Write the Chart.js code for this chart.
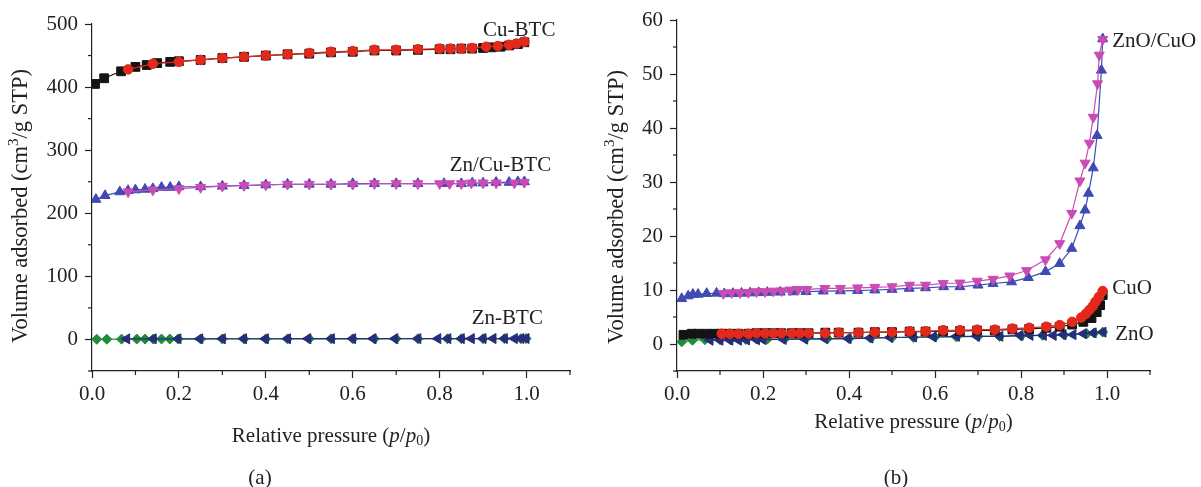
<!DOCTYPE html>
<html>
<head>
<meta charset="utf-8">
<script src="https://cdn.jsdelivr.net/npm/chart.js@4.4.1/dist/chart.umd.min.js"></script>
<style>
html, body { margin: 0; padding: 0; background: #fff; }
#wrap { position: relative; width: 1201px; height: 487px; }
#chartA { position: absolute; left: 0; top: 0; }
#chartB { position: absolute; left: 600px; top: 0; }
</style>
</head>
<body>
<div id="wrap">
  <canvas id="chartA" width="600" height="487"></canvas>
  <canvas id="chartB" width="601" height="487"></canvas>
</div>
<script>
//////// (a) MOF isotherms ////////
// Cu-BTC
var cuAdsX = [0.007,0.028,0.067,0.10,0.126,0.15,0.18,0.20,0.25,0.30,0.35,0.40,0.45,0.50,0.55,0.60,0.65,0.70,0.75,0.80,0.825,0.85,0.875,0.90,0.92,0.94,0.96,0.98,0.995];
var cuAdsY = [405,414,425,432,435,438,440,441,443,446,448,450,452,453,455,456,458,458,459,460,460,461,461,462,463,464,466,468,471];
var cuDesX = [0.083,0.14,0.20,0.25,0.30,0.35,0.40,0.45,0.50,0.55,0.60,0.65,0.70,0.75,0.80,0.825,0.85,0.875,0.907,0.934,0.96,0.977,0.995];
var cuDesY = [428,437,440,443,446,448,450,452,454,456,457,459,459,460,461,461,461,462,464,465,467,469,472];
// Zn/Cu-BTC
var znCuAdsX = [0.009,0.03,0.064,0.083,0.10,0.122,0.14,0.16,0.18,0.20,0.25,0.30,0.35,0.40,0.45,0.50,0.55,0.60,0.65,0.70,0.75,0.81,0.85,0.875,0.90,0.93,0.96,0.98,0.995];
var znCuAdsY = [222,228,234,236,237,238,239,241,241,242,242,243,244,245,246,246,246,247,247,247,247,247,247,248,248,249,249,250,250];
var znCuDesX = [0.083,0.14,0.20,0.25,0.30,0.35,0.40,0.45,0.50,0.55,0.60,0.65,0.70,0.75,0.80,0.823,0.85,0.873,0.90,0.93,0.972,0.995];
var znCuDesY = [234,237,239,241,243,244,245,246,246,246,246,247,247,247,247,247,247,248,248,248,248,249];
// Zn-BTC
var znAdsX = [0.011,0.034,0.068,0.103,0.122,0.141,0.16,0.179,0.198,0.25,0.30,0.35,0.40,0.45,0.50,0.55,0.60,0.65,0.70,0.75,0.818,0.85,0.90,0.949,0.987,0.999];
var znAdsY = [0.3,0.4,0.5,0.6,0.6,0.7,0.7,0.7,0.8,0.8,0.8,0.9,0.9,0.9,1.0,1.0,1.0,1.0,1.1,1.1,1.1,1.2,1.2,1.3,1.3,1.4];
var znDesX = [0.08,0.141,0.198,0.248,0.30,0.349,0.399,0.45,0.497,0.551,0.60,0.647,0.697,0.75,0.796,0.819,0.85,0.873,0.90,0.923,0.949,0.972,0.987,0.999];
var znDesY = [0.9,1.0,1.0,1.0,1.1,1.1,1.1,1.1,1.2,1.2,1.2,1.2,1.2,1.3,1.3,1.3,1.3,1.3,1.4,1.4,1.4,1.4,1.5,1.5];

//////// (b) oxide isotherms ////////
// ZnO/CuO
var zcAdsX = [0.011,0.026,0.037,0.049,0.069,0.092,0.11,0.13,0.15,0.17,0.19,0.21,0.24,0.27,0.30,0.34,0.38,0.42,0.46,0.50,0.54,0.578,0.62,0.658,0.70,0.735,0.778,0.817,0.857,0.89,0.918,0.937,0.949,0.957,0.968,0.977,0.987,0.99];
var zcAdsY = [8.4,8.9,9.2,9.2,9.35,9.4,9.3,9.35,9.4,9.45,9.5,9.55,9.6,9.65,9.7,9.8,9.85,9.9,10.0,10.1,10.3,10.4,10.6,10.6,10.9,11.2,11.5,12.3,13.4,14.9,17.7,21.9,24.8,27.9,32.6,38.6,50.7,56.5];
var zcDesX = [0.108,0.127,0.147,0.166,0.185,0.205,0.224,0.243,0.263,0.282,0.302,0.344,0.38,0.42,0.46,0.50,0.541,0.578,0.619,0.658,0.698,0.735,0.774,0.813,0.857,0.89,0.918,0.937,0.949,0.959,0.968,0.978,0.982,0.99];
var zcDesY = [9.35,9.5,9.5,9.55,9.7,9.7,9.8,9.85,10.0,10.1,10.1,10.3,10.3,10.4,10.5,10.6,10.9,10.9,11.2,11.3,11.65,12.0,12.6,13.6,15.6,18.6,24.2,30.2,33.5,37.2,42.0,48.2,53.5,56.4];
// CuO
var cuoAdsX = [0.015,0.034,0.05,0.069,0.088,0.104,0.123,0.143,0.166,0.185,0.205,0.224,0.243,0.267,0.286,0.306,0.345,0.376,0.422,0.46,0.50,0.541,0.578,0.619,0.658,0.698,0.739,0.78,0.819,0.859,0.89,0.919,0.945,0.964,0.976,0.984,0.99];
var cuoAdsY = [1.7,1.9,1.9,1.9,1.9,1.9,1.9,1.9,1.9,2.0,2.0,2.0,2.0,2.0,2.0,2.0,2.1,2.1,2.1,2.2,2.2,2.3,2.3,2.4,2.4,2.5,2.5,2.7,2.8,3.0,3.2,3.6,4.1,4.8,5.9,7.2,9.05];
var cuoDesX = [0.104,0.123,0.143,0.166,0.185,0.205,0.224,0.243,0.267,0.286,0.306,0.345,0.376,0.422,0.46,0.50,0.541,0.578,0.619,0.658,0.698,0.739,0.78,0.819,0.859,0.89,0.919,0.94,0.951,0.959,0.967,0.973,0.981,0.99];
var cuoDesY = [1.9,1.9,1.9,1.9,2.0,2.0,2.0,2.0,2.0,2.0,2.0,2.0,2.1,2.1,2.2,2.2,2.35,2.35,2.55,2.55,2.65,2.65,2.85,3.0,3.2,3.5,4.1,4.9,5.6,6.3,7.0,7.8,8.7,9.8];
// ZnO
var znoAdsX = [0.011,0.036,0.065,0.1,0.124,0.16,0.185,0.21,0.25,0.30,0.35,0.40,0.45,0.50,0.55,0.60,0.65,0.70,0.75,0.80,0.85,0.90,0.953,0.97,0.99];
var znoAdsY = [0.4,0.7,0.8,0.8,0.8,0.85,0.9,0.9,0.9,1.0,1.0,1.0,1.1,1.2,1.2,1.3,1.3,1.4,1.4,1.5,1.6,1.7,1.9,2.05,2.2];
var znoDesX = [0.077,0.1,0.123,0.143,0.162,0.185,0.2,0.247,0.297,0.344,0.398,0.449,0.495,0.55,0.596,0.65,0.697,0.751,0.798,0.821,0.852,0.875,0.898,0.921,0.945,0.968,0.991];
var znoDesY = [0.7,0.7,0.7,0.7,0.75,0.8,0.8,0.85,0.9,0.95,1.0,1.1,1.2,1.3,1.3,1.43,1.43,1.43,1.6,1.6,1.6,1.6,1.73,1.73,1.9,2.05,2.2];

// axis ticks
var xMajor = [0, 0.2, 0.4, 0.6, 0.8, 1.0];
var xMinor = [0.1, 0.3, 0.5, 0.7, 0.9, 1.1];
var yMajorA = [0, 100, 200, 300, 400, 500];
var yMinorA = [-50, 50, 150, 250, 350, 450];
var yMajorB = [0, 10, 20, 30, 40, 50, 60];
var yMinorB = [-5, 5, 15, 25, 35, 45, 55];

var SERIF = '"Liberation Serif", "DejaVu Serif", serif';
var INK = '#222';
var FS = 21;     // ticks, x title, curve names
var YFS = 22.5;  // rotated y title

// pair up x/y arrays into chart.js points
function pts(xs, ys) {
  var out = [];
  for (var i = 0; i < xs.length; i++) out.push({x: xs[i], y: ys[i]});
  return out;
}

function series(xs, ys, color, style, rot, r) {
  return {
    data: pts(xs, ys),
    showLine: true,
    borderColor: color,
    backgroundColor: color,
    borderWidth: 1.2,
    pointStyle: style,
    rotation: rot || 0,
    pointRadius: r || 4.8,
    pointBorderWidth: 1,
    pointBorderColor: color,
    pointBackgroundColor: color,
    tension: 0
  };
}

var BLACK = '#141414', RED = '#e3291c', BLUE = '#3f4bb2', PINK = '#c94bb3', GREEN = '#1f8c3c', NAVY = '#272c7c';

// text with italic / sub / superscript pieces, centred on (cx, cy)
function drawRich(ctx, parts, cx, cy, angle, size) {
  function fontOf(p) {
    var s = (p.sup || p.sub) ? Math.round(size * 0.66) : size;
    return (p.i ? 'italic ' : '') + s + 'px ' + SERIF;
  }
  var total = 0;
  parts.forEach(function (p) { ctx.font = fontOf(p); p.w = ctx.measureText(p.t).width; total += p.w; });
  ctx.save();
  ctx.translate(cx, cy);
  ctx.rotate(angle);
  ctx.textBaseline = 'middle';
  ctx.textAlign = 'left';
  ctx.fillStyle = INK;
  var x = -total / 2;
  parts.forEach(function (p) {
    ctx.font = fontOf(p);
    var dy = p.sup ? -size * 0.33 : (p.sub ? size * 0.25 : 0);
    ctx.fillText(p.t, x, dy);
    x += p.w;
  });
  ctx.restore();
}

var xTitle = [{t: 'Relative pressure ('}, {t: 'p', i: 1}, {t: '/'}, {t: 'p', i: 1}, {t: '0', sub: 1}, {t: ')'}];
var yTitle = [{t: 'Volume adsorbed (cm'}, {t: '3', sup: 1}, {t: '/g STP)'}];

// minor ticks, curve names, axis titles and the panel letter
var decor = {
  id: 'decor',
  afterDraw: function (chart, args, o) {
    var ctx = chart.ctx, xs = chart.scales.x, ys = chart.scales.y;
    ctx.save();
    ctx.strokeStyle = INK;
    ctx.lineWidth = 1.2;
    o.minorX.forEach(function (v) {
      var px = xs.getPixelForValue(v);
      ctx.beginPath(); ctx.moveTo(px, xs.top); ctx.lineTo(px, xs.top + 4); ctx.stroke();
    });
    o.minorY.forEach(function (v) {
      var py = ys.getPixelForValue(v);
      ctx.beginPath(); ctx.moveTo(ys.right, py); ctx.lineTo(ys.right - 4, py); ctx.stroke();
    });
    ctx.font = FS + 'px ' + SERIF;
    ctx.fillStyle = INK;
    ctx.textAlign = 'left';
    ctx.textBaseline = 'middle';
    o.names.forEach(function (n) {
      ctx.fillText(n.t, xs.getPixelForValue(n.x), ys.getPixelForValue(n.y));
    });
    ctx.restore();
    drawRich(ctx, yTitle, o.yTitleX, o.yTitleY, -Math.PI / 2, YFS);
    drawRich(ctx, xTitle, (xs.left + xs.right) / 2, o.xTitleY, 0, FS);
    drawRich(ctx, [{t: o.letter}], o.letterX, o.letterY, 0, FS);
  }
};

function makeChart(id, datasets, yMin, yMax, yMajor, yWidth, pad, deco) {
  return new Chart(document.getElementById(id), {
    type: 'scatter',
    data: {datasets: datasets},
    plugins: [decor],
    options: {
      responsive: false,
      animation: false,
      layout: {padding: pad},
      plugins: {legend: {display: false}, tooltip: {enabled: false}, decor: deco},
      scales: {
        x: {
          type: 'linear', min: 0, max: 1.1,
          afterBuildTicks: function (s) { s.ticks = xMajor.map(function (v) { return {value: v}; }); },
          afterFit: function (s) { s.height = 50; },
          ticks: {callback: function (v) { return v.toFixed(1); }, color: INK, font: {family: SERIF, size: FS}, padding: 4, maxRotation: 0, autoSkip: false},
          grid: {drawOnChartArea: false, tickLength: 7, tickColor: INK, tickWidth: 1.2},
          border: {color: INK, width: 1.2}
        },
        y: {
          type: 'linear', min: yMin, max: yMax,
          afterBuildTicks: function (s) { s.ticks = yMajor.map(function (v) { return {value: v}; }); },
          afterFit: function (s) { s.width = yWidth; },
          ticks: {color: INK, font: {family: SERIF, size: FS}, padding: 7, autoSkip: false},
          grid: {drawOnChartArea: false, tickLength: 7, tickColor: INK, tickWidth: 1.2},
          border: {color: INK, width: 1.2}
        }
      }
    }
  });
}

// (a) desorption branches listed first so they sit on top
makeChart('chartA', [
  series(cuDesX, cuDesY, RED, 'circle'),
  series(cuAdsX, cuAdsY, BLACK, 'rect', 0, 6.2),
  series(znCuDesX, znCuDesY, PINK, 'triangle', 180, 5.8),
  series(znCuAdsX, znCuAdsY, BLUE, 'triangle', 0, 5.8),
  series(znDesX, znDesY, NAVY, 'triangle', -90, 5.8),
  series(znAdsX, znAdsY, GREEN, 'rectRot', 0, 5)
], -50, 500, yMajorA, 92, {left: 0, right: 30, top: 24, bottom: 66}, {
  minorX: xMinor, minorY: yMinorA,
  names: [{t: 'Cu-BTC', x: 0.9, y: 490}, {t: 'Zn/Cu-BTC', x: 0.823, y: 275}, {t: 'Zn-BTC', x: 0.874, y: 33}],
  yTitleX: 21, yTitleY: 206, xTitleY: 436,
  letter: '(a)', letterX: 260, letterY: 478
});

makeChart('chartB', [
  series(zcDesX, zcDesY, PINK, 'triangle', 180, 5.8),
  series(zcAdsX, zcAdsY, BLUE, 'triangle', 0, 5.8),
  series(cuoDesX, cuoDesY, RED, 'circle'),
  series(cuoAdsX, cuoAdsY, BLACK, 'rect', 0, 6.2),
  series(znoDesX, znoDesY, NAVY, 'triangle', -90, 5.8),
  series(znoAdsX, znoAdsY, GREEN, 'rectRot', 0, 5)
], -5, 60, yMajorB, 77, {left: 0, right: 51, top: 20, bottom: 66}, {
  minorX: xMinor, minorY: yMinorB,
  names: [{t: 'ZnO/CuO', x: 1.012, y: 56.1}, {t: 'CuO', x: 1.012, y: 10.2}, {t: 'ZnO', x: 1.019, y: 1.7}],
  yTitleX: 17, yTitleY: 207, xTitleY: 422,
  letter: '(b)', letterX: 296, letterY: 478
});
</script>
</body>
</html>
